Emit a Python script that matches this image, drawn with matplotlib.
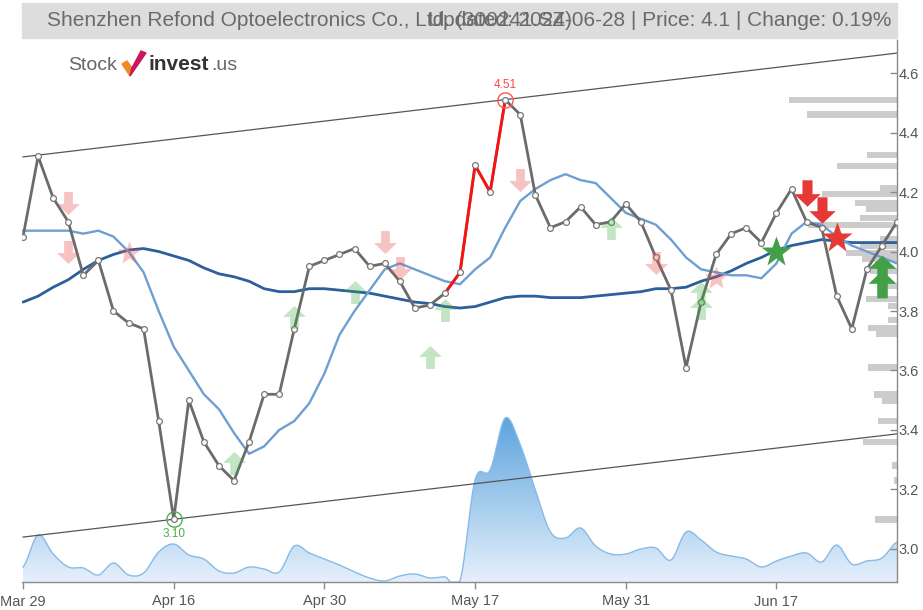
import numpy as np
import matplotlib
matplotlib.use("Agg")
import matplotlib.pyplot as plt
from matplotlib.path import Path
from matplotlib.patches import Rectangle, Polygon
from matplotlib.colors import LinearSegmentedColormap

plt.rcParams['font.family'] = ['Liberation Sans', 'DejaVu Sans']

# ---------------- data ----------------
tick_idx = [0, 10, 20, 30, 40, 50]
tick_labels = ["Mar 29", "Apr 16", "Apr 30", "May 17", "May 31", "Jun 17"]

close = [4.05, 4.32, 4.18, 4.10, 3.92, 3.97, 3.80, 3.76, 3.74, 3.43,
         3.10, 3.50, 3.36, 3.28, 3.23, 3.36, 3.52, 3.52, 3.74, 3.95,
         3.97, 3.99, 4.01, 3.95, 3.96, 3.90, 3.81, 3.82, 3.86, 3.93,
         4.29, 4.20, 4.51, 4.46, 4.19, 4.08, 4.10, 4.15, 4.09, 4.10,
         4.16, 4.10, 3.98, 3.87, 3.61, 3.83, 3.99, 4.06, 4.08, 4.03,
         4.13, 4.21, 4.10, 4.08, 3.85, 3.74, 3.94, 4.02, 4.10]

ma_fast = [4.07, 4.07, 4.07, 4.07, 4.06, 4.07, 4.05, 4.00, 3.93, 3.80,
           3.68, 3.60, 3.52, 3.47, 3.39, 3.32, 3.345, 3.40, 3.43, 3.49,
           3.59, 3.72, 3.80, 3.87, 3.94, 3.96, 3.94, 3.92, 3.90, 3.89,
           3.94, 3.98, 4.08, 4.17, 4.21, 4.24, 4.26, 4.24, 4.23, 4.18,
           4.13, 4.11, 4.09, 4.04, 3.98, 3.94, 3.93, 3.92, 3.92, 3.91,
           3.96, 4.06, 4.10, 4.09, 4.05, 4.02, 4.00, 3.98, 3.96]

ma_slow = [3.83, 3.85, 3.88, 3.905, 3.94, 3.97, 3.99, 4.005, 4.01, 4.00,
           3.985, 3.97, 3.945, 3.925, 3.915, 3.90, 3.875, 3.865, 3.865, 3.875,
           3.875, 3.87, 3.865, 3.86, 3.85, 3.84, 3.83, 3.825, 3.815, 3.81,
           3.815, 3.83, 3.845, 3.85, 3.85, 3.845, 3.845, 3.845, 3.85, 3.855,
           3.86, 3.865, 3.875, 3.875, 3.88, 3.90, 3.915, 3.935, 3.96, 3.98,
           4.005, 4.02, 4.03, 4.04, 4.035, 4.03, 4.03, 4.03, 4.03]

volume = [1.5, 4.7, 2.8, 1.5, 1.4, 0.7, 1.9, 0.7, 0.9, 3.0,
          3.8, 2.7, 2.3, 1.1, 0.9, 1.5, 1.3, 1.0, 3.6, 2.9,
          2.3, 1.7, 1.0, 0.4, 0.1, 0.6, 0.8, 0.4, 0.5, 0.1,
          10.2, 11.2, 16.4, 13.7, 9.2, 5.0, 4.4, 5.4, 3.6, 2.8,
          2.8, 3.3, 3.4, 2.2, 5.0, 4.2, 3.0, 2.6, 2.3, 1.5,
          2.1, 2.6, 2.9, 2.0, 3.7, 1.8, 2.1, 2.4, 4.0]

red_seg = (28, 32)           # highlighted run up to the high
high_idx, low_idx = 32, 10

trend_idx = [0, 58]
trend_upper = [4.318, 4.667]
trend_lower = [3.040, 3.387]

profile_price = [4.51, 4.46, 4.324, 4.287, 4.213, 4.193, 4.163, 4.143, 4.113, 4.089,
                 4.042, 4.018, 3.995, 3.975, 3.934, 3.884, 3.840, 3.817, 3.770, 3.743,
                 3.723, 3.61, 3.52, 3.50, 3.43, 3.36, 3.28, 3.23, 3.10]
profile_vol = [108, 90, 30, 60, 17, 75, 42, 31, 37, 89,
               17, 37, 51, 35, 27, 19, 31, 9, 9, 29,
               21, 29, 23, 15, 19, 34, 5, 3, 22]

weak_sell_arrow = [(3, 4.163), (3, 3.998), (24, 4.032), (25, 3.945), (33, 4.24), (42, 3.96)]
weak_sell_star = [(7, 3.995), (46, 3.91)]
weak_buy_arrow = [(14, 3.289), (18, 3.78), (22, 3.864), (27, 3.645), (28, 3.803),
                  (39, 4.08), (45, 3.86), (45, 3.81)]
strong_buy_star = [(50, 3.998)]
strong_sell_arrow = [(52, 4.197), (53, 4.14)]
strong_sell_star = [(54, 4.045)]
strong_buy_arrow = [(57, 3.94), (57, 3.89)]

# ---------------- figure ----------------
W, H = 923, 610
fig = plt.figure(figsize=(W / 100, H / 100), dpi=100)

def fx(px):
    return px / W

def fy(py):
    return 1 - py / H

rect = [fx(22), fy(582), fx(897) - fx(22), fy(40) - fy(582)]
ax_vol = fig.add_axes(rect, zorder=0)
ax = fig.add_axes(rect, zorder=1)
ax.patch.set_alpha(0)

n = len(close)
x = np.arange(n)
xmin, xmax = -0.07, 58.0
ymin, ymax = 2.889, 4.711

# ----- volume area (smooth rendering through the points) -----
def catmull(xs, ys, k=12):
    xs = np.asarray(xs, float); ys = np.asarray(ys, float)
    px = np.concatenate([[xs[0]], xs, [xs[-1]]])
    py = np.concatenate([[ys[0]], ys, [ys[-1]]])
    ox, oy = [], []
    for i in range(1, len(px) - 2):
        t = np.linspace(0, 1, k, endpoint=False)
        p0, p1, p2, p3 = py[i - 1], py[i], py[i + 1], py[i + 2]
        yy = 0.5 * ((2 * p1) + (-p0 + p2) * t + (2 * p0 - 5 * p1 + 4 * p2 - p3) * t ** 2
                    + (-p0 + 3 * p1 - 3 * p2 + p3) * t ** 3)
        xx = px[i] + (px[i + 1] - px[i]) * t
        ox.append(xx); oy.append(yy)
    ox.append([xs[-1]]); oy.append([ys[-1]])
    return np.concatenate(ox), np.clip(np.concatenate(oy), 0, None)

vx, vy = catmull(x, volume)
vtop = max(volume) * 542 / 164
ax_vol.set_xlim(xmin, xmax)
ax_vol.set_ylim(0, vtop)
poly = ax_vol.fill_between(vx, 0, vy, color='none', lw=0)
grad = np.linspace(0, 1, 256).reshape(-1, 1)
cmap = LinearSegmentedColormap.from_list('v', ['#e6f0fb', '#5ea4de'])
im = ax_vol.imshow(grad, extent=[xmin, xmax, 0, max(volume)], origin='lower',
                   aspect='auto', cmap=cmap, zorder=1)
im.set_clip_path(poly.get_paths()[0], transform=ax_vol.transData)
ax_vol.plot(vx, vy, color='#86bbe8', lw=1.0, zorder=2)
ax_vol.set_ylim(0, vtop)
ax_vol.axis('off')

# ----- main axes -----
ax.set_xlim(xmin, xmax)
ax.set_ylim(ymin, ymax)

# volume profile bars
ax.barh(profile_price, [-v / 15.086 for v in profile_vol], left=xmax, height=0.022,
        color='#cccccc', lw=0, zorder=1)

# trend channel
ax.plot(trend_idx, trend_upper, color='#555555', lw=0.9, zorder=2)
ax.plot(trend_idx, trend_lower, color='#555555', lw=0.9, zorder=2)

# moving averages
ax.plot(x, ma_slow, color='#2c5f9c', lw=2.0, zorder=3, solid_capstyle='round')
ax.plot(x, ma_fast, color='#6e9fd2', lw=1.7, zorder=3, solid_capstyle='round')

# price
ax.plot(x, close, color='#6b6b6b', lw=2.0, zorder=4)
s0, s1 = red_seg
ax.plot(x[s0:s1 + 1], close[s0:s1 + 1], color='#ff1010', lw=2.0, zorder=4)
ax.plot(x, close, ls='none', marker='o', ms=4.2, mfc='white', mec='#777777', mew=0.9, zorder=5)

# high / low annotations
ax.plot([high_idx], [close[high_idx]], marker='o', ms=11, mfc='none', mec='#ff5555', mew=1.0, zorder=6)
ax.text(high_idx, close[high_idx] + 0.028, f"{close[high_idx]:.2f}", color='#ff4444',
        fontsize=8.5, ha='center', va='bottom', zorder=6)
ax.plot([low_idx], [close[low_idx]], marker='o', ms=11, mfc='none', mec='#4caf50', mew=1.0, zorder=6)
ax.text(low_idx, close[low_idx] - 0.028, f"{close[low_idx]:.2f}", color='#4caf50',
        fontsize=8.5, ha='center', va='top', zorder=6)

# signal markers
up_arrow = Path([(0, 1), (1, 0.05), (0.38, 0.05), (0.38, -1), (-0.38, -1),
                 (-0.38, 0.05), (-1, 0.05), (0, 1)],
                [Path.MOVETO] + [Path.LINETO] * 6 + [Path.CLOSEPOLY])
down_arrow = Path([(vx_, -vy_) for vx_, vy_ in up_arrow.vertices], up_arrow.codes)

def mk(pts, marker, ms, color, alpha=1.0, z=7):
    if not pts:
        return
    xs, ys = zip(*pts)
    ax.plot(xs, ys, ls='none', marker=marker, ms=ms, color=color, mec='none', alpha=alpha, zorder=z)

mk(weak_sell_arrow, down_arrow, 16.5, '#e85050', 0.35)
mk(weak_sell_star, '*', 18, '#e85050', 0.35)
mk(weak_buy_arrow, up_arrow, 16.5, '#3caa3c', 0.3)
mk(strong_buy_star, '*', 23, '#43a047', 1.0, 8)
mk(strong_sell_arrow, down_arrow, 19, '#e53935', 1.0, 8)
mk(strong_sell_star, '*', 23, '#e53935', 1.0, 8)
mk(strong_buy_arrow, up_arrow, 20, '#43a047', 1.0, 8)

# axes styling
for s in ['left', 'top']:
    ax.spines[s].set_visible(False)
for s in ['right', 'bottom']:
    ax.spines[s].set_color('#8a8a8a')
    ax.spines[s].set_linewidth(1.0)
ax.yaxis.tick_right()
ax.set_yticks(np.round(np.arange(3.0, 4.61, 0.2), 1))
ax.set_yticklabels([f"{v:.1f}" for v in np.arange(3.0, 4.61, 0.2)])
ax.tick_params(axis='y', direction='in', length=5, width=1, color='#8a8a8a',
               labelcolor='#555555', labelsize=10.5, pad=1)
ax.set_xticks(tick_idx)
ax.set_xticklabels(tick_labels)
ax.tick_params(axis='x', direction='out', length=5, width=1, color='#8a8a8a',
               labelcolor='#555555', labelsize=10.5, pad=4)

# title bar
fig.patches.append(Rectangle((fx(22), fy(38)), fx(897) - fx(22), fy(3) - fy(38),
                             transform=fig.transFigure, color='#dddddd', zorder=0))
fig.text(fx(47), fy(21), "Shenzhen Refond Optoelectronics Co., Ltd. (300241.SZ)",
         color='#6a6a6a', fontsize=15, ha='left', va='center')
fig.text(fx(891), fy(21), "Updated: 2024-06-28 | Price: 4.1 | Change: 0.19%",
         color='#6a6a6a', fontsize=15, ha='right', va='center')

# logo
fig.text(fx(68), fy(66), "Stock", color='#666666', fontsize=14, ha='left', va='center')
fig.patches.append(Polygon([(fx(122), fy(64)), (fx(127), fy(61)), (fx(132), fy(68)),
                            (fx(130), fy(76))], closed=True, transform=fig.transFigure,
                           color='#f08a24', zorder=3))
fig.patches.append(Polygon([(fx(130), fy(76)), (fx(132), fy(68)), (fx(141), fy(51)),
                            (fx(146), fy(53))], closed=True, transform=fig.transFigure,
                           color='#c8175d', zorder=3))
fig.text(fx(148), fy(65), "invest", color='#333333', fontsize=15, fontweight='bold',
         ha='left', va='center')
fig.text(fx(211), fy(66), ".us", color='#666666', fontsize=14, ha='left', va='center')

fig.savefig("out.png", dpi=100)
